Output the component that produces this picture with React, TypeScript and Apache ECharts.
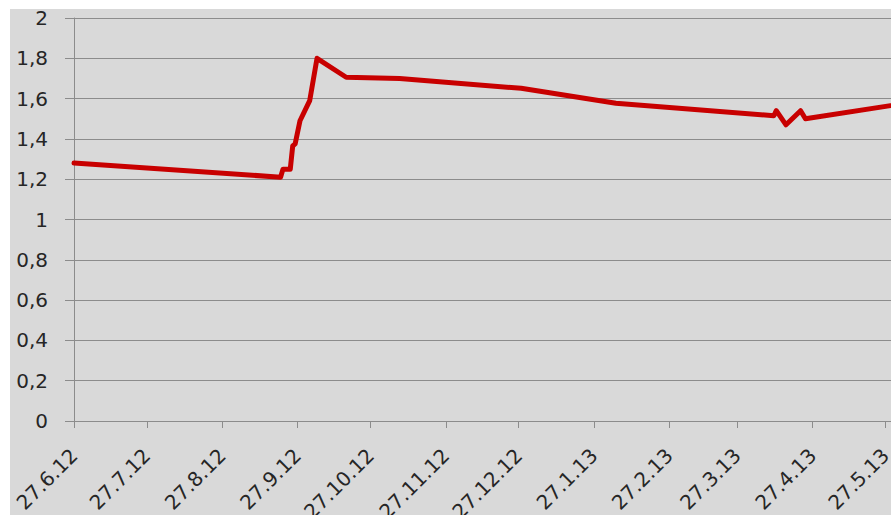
import React, { useEffect, useRef } from "react";
import * as echarts from "echarts";

const TICK_LABELS = ["27.6.12", "27.7.12", "27.8.12", "27.9.12", "27.10.12", "27.11.12", "27.12.12", "27.1.13", "27.2.13", "27.3.13", "27.4.13", "27.5.13"];
const Y_TICKS = [0, 0.2, 0.4, 0.6, 0.8, 1, 1.2, 1.4, 1.6, 1.8, 2];

const DATES = [
  "2012-06-27", "2012-09-20", "2012-09-21", "2012-09-24", "2012-09-25", "2012-09-26",
  "2012-09-28", "2012-10-02", "2012-10-05", "2012-10-17", "2012-11-08", "2012-12-28",
  "2013-02-05", "2013-04-11", "2013-04-12", "2013-04-16", "2013-04-22", "2013-04-24", "2013-05-29",
];
const VALUES = [1.28, 1.21, 1.25, 1.25, 1.365, 1.375, 1.49, 1.59, 1.8, 1.706, 1.7, 1.651, 1.577, 1.515, 1.54, 1.47, 1.54, 1.5, 1.565];

const X_MIN = "2012-06-27T00:00:00Z";
const X_MAX = "2013-05-29T05:00:00Z";

function labelToTs(l: string): number {
  const [d, m, y] = l.split(".").map(Number);
  return Date.UTC(2000 + y, m - 1, d);
}
function tsToLabel(ts: number): string {
  const dt = new Date(ts);
  return `${dt.getUTCDate()}.${dt.getUTCMonth() + 1}.${String(dt.getUTCFullYear()).slice(2)}`;
}

export default function App() {
  const ref = useRef<HTMLDivElement>(null);
  useEffect(() => {
    document.body.style.margin = "0";
    if (!ref.current) return;
    const chart = echarts.init(ref.current, undefined, { renderer: "svg" });
    const tickValues = TICK_LABELS.map(labelToTs);
    const data = DATES.map((d, i) => [Date.parse(d + "T00:00:00Z"), VALUES[i]]);
    const font = "DejaVu Sans";
    chart.setOption({
      animation: false,
      backgroundColor: "#ffffff",
      graphic: [
        {
          type: "rect",
          z: -100,
          silent: true,
          shape: { x: 10, y: 9, width: 881, height: 506 },
          style: { fill: "#d9d9d9" },
        },
      ],
      grid: { left: 74, right: 0, top: 18, bottom: 94, containLabel: false, outerBoundsMode: "none" },
      xAxis: {
        type: "value",
        min: Date.parse(X_MIN),
        max: Date.parse(X_MAX),
        axisLine: { show: true, lineStyle: { color: "#8c8c8c", width: 1 } },
        axisTick: { show: true, length: 7, lineStyle: { color: "#8c8c8c" }, customValues: tickValues },
        axisLabel: {
          customValues: tickValues,
          rotate: 45,
          margin: 31,
          fontFamily: font,
          fontSize: 20,
          color: "#262626",
          formatter: (v: number) => tsToLabel(v),
          hideOverlap: false,
        },
        splitLine: { show: false },
      },
      yAxis: {
        type: "value",
        min: Y_TICKS[0],
        max: Y_TICKS[Y_TICKS.length - 1],
        interval: 0.2,
        axisLine: { show: true, lineStyle: { color: "#8c8c8c", width: 1 } },
        axisTick: { show: true, length: 9, lineStyle: { color: "#8c8c8c" } },
        axisLabel: {
          margin: 26,
          fontFamily: font,
          fontSize: 20,
          color: "#262626",
          formatter: (v: number) => String(Math.round(v * 10) / 10).replace(".", ","),
        },
        splitLine: { show: true, lineStyle: { color: "#8c8c8c", width: 1 } },
      },
      series: [
        {
          type: "line",
          data,
          showSymbol: false,
          symbol: "none",
          lineStyle: { color: "#c80000", width: 5, join: "round", cap: "round" },
          clip: false,
        },
      ],
    });
    return () => chart.dispose();
  }, []);
  return <div ref={ref} style={{ width: 891, height: 515 }} />;
}
